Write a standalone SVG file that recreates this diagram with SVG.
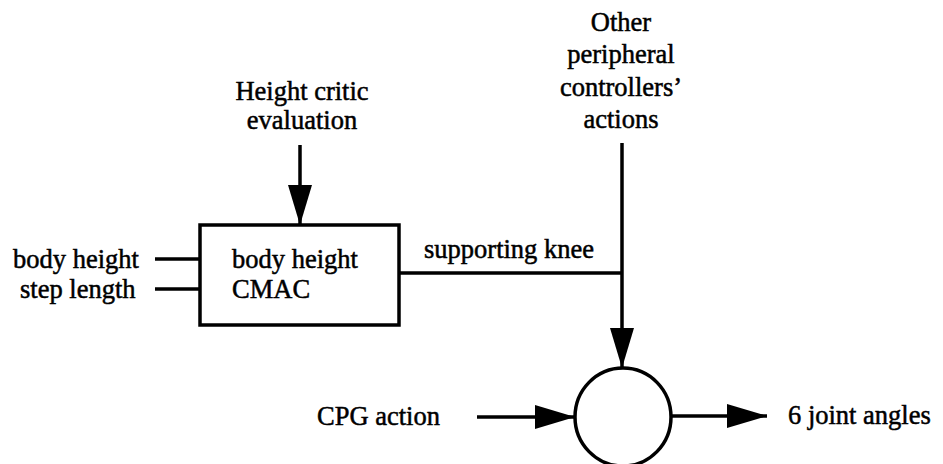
<svg xmlns="http://www.w3.org/2000/svg" width="943" height="464" viewBox="0 0 943 464">
<style>
text{font-family:'Liberation Serif','Times New Roman','DejaVu Serif',serif;font-size:26.5px;fill:#000;stroke:#000;stroke-width:0.5}
.c{text-anchor:middle}
.ln{stroke:#000;stroke-width:3.5;fill:none}
.node{stroke:#000;stroke-width:3.5;fill:#fff}
</style>
<defs>
<marker id="ah" viewBox="0 0 40 24" refX="40" refY="12" markerWidth="40" markerHeight="24" markerUnits="userSpaceOnUse" orient="auto">
<path d="M0,0 L40,12 L0,24 Z" fill="#000"/>
</marker>
</defs>
<g id="labels">
<text class="c" x="302" y="100">Height critic</text>
<text class="c" x="302" y="129">evaluation</text>
<text class="c" x="621" y="31">Other</text>
<text class="c" x="621" y="63">peripheral</text>
<text class="c" x="621" y="96">controllers’</text>
<text class="c" x="621" y="128">actions</text>
<text x="13" y="268">body height</text>
<text x="20" y="298">step length</text>
<text x="424" y="258">supporting knee</text>
<text x="317" y="425">CPG action</text>
<text x="788" y="424">6 joint angles</text>
</g>
<g id="connectors">
<line class="ln" x1="300" y1="145" x2="300" y2="225" marker-end="url(#ah)"/>
<line class="ln" x1="155" y1="259" x2="200" y2="259"/>
<line class="ln" x1="155" y1="289" x2="200" y2="289"/>
<line class="ln" x1="400" y1="273" x2="622" y2="273"/>
<line class="ln" x1="622" y1="143" x2="622" y2="368" marker-end="url(#ah)"/>
<line class="ln" x1="477" y1="417" x2="575" y2="417" marker-end="url(#ah)"/>
<line class="ln" x1="672" y1="416" x2="767" y2="416" marker-end="url(#ah)"/>
</g>
<g id="cmac">
<rect class="node" x="200" y="225" width="199" height="100"/>
<text x="232" y="268">body height</text>
<text x="232" y="298">CMAC</text>
</g>
<g id="sum">
<ellipse class="node" cx="623" cy="417" rx="48" ry="49"/>
</g>
</svg>
